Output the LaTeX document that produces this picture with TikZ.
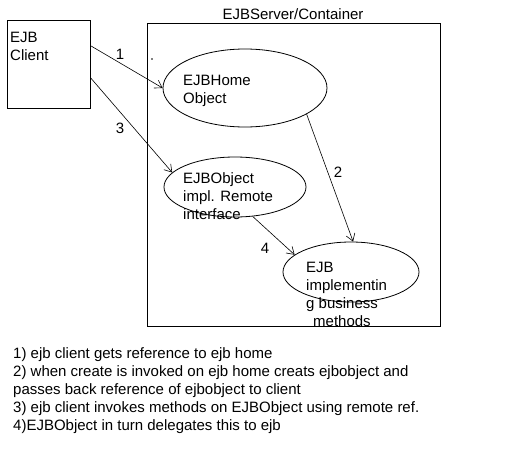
\documentclass[tikz,border=0pt]{standalone}
\usepackage{fontspec}
\setmainfont{Liberation Sans}
\usetikzlibrary{arrows.meta,shapes.geometric}
\tikzset{
  box/.style={draw,line width=0.8pt,inner sep=0pt},
  oval/.style={draw,ellipse,line width=0.8pt,inner sep=0pt},
  txt/.style={anchor=west,align=left,inner sep=0pt,font=\fontsize{15}{18}\selectfont},
  call/.style={-{Straight Barb[length=7pt,width=9pt]},line width=0.6pt},
}
\begin{document}
\begin{tikzpicture}[x=1pt,y=-1pt]
      \useasboundingbox (0,0) rectangle (525,450);
      \draw
        (48.5,64) node[box,minimum width=83pt,minimum height=88pt] (client){}
        (293.5,174.5) node[box,minimum width=293pt,minimum height=303pt] (container){}
        (245,88) node[oval,minimum width=164pt,minimum height=78pt] (home){}
        (235,187) node[oval,minimum width=142pt,minimum height=60pt] (object){}
        (351,272) node[oval,minimum width=136pt,minimum height=60pt] (bean){};
      \draw
        (10,46.5) node[txt] (clienttxt){EJB\\Client}
        (293,14) node[txt,anchor=center] (title){EJBServer/Container}
        (183,91) node[txt] (hometxt){EJBHome\\Object}
        (183,196) node[txt] (objecttxt){EJBObject\\impl. Remote\\interface}
        (306,294) node[txt] (beantxt){EJB\\implementin\\g business\\\hspace*{7pt}methods}
        (13,391) node[txt] (notes){1) ejb client gets reference to ejb home\\
          2) when create is invoked on ejb home creats ejbobject and\\
          passes back reference of ejbobject to client\\
          3) ejb client invokes methods on EJBObject using remote ref.\\
          4)EJBObject in turn delegates this to ejb};
      \draw
        (120,54) node[txt,anchor=center] (n1){1}
        (120,128) node[txt,anchor=center] (n3){3}
        (338,172) node[txt,anchor=center] (n2){2}
        (265,248) node[txt,anchor=center] (n4){4};
      \fill (152,59) circle (0.9pt);
      \begin{scope}[call]
        \draw ([yshift=-26pt]client.north east) to (home.west);
        \draw ([yshift=-58pt]client.north east) to (object.167);
        \draw (home.-23) to (bean.86);
        \draw (object.-59) to (bean.163);
      \end{scope}
    \end{tikzpicture}
\end{document}
